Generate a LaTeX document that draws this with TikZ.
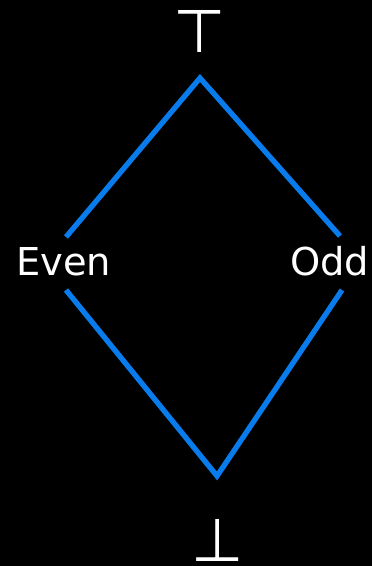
\documentclass[tikz,border=0pt]{standalone}
\usepackage{fontspec}
\setmainfont{DejaVu Sans}
\definecolor{lineblue}{RGB}{8,124,236}
\begin{document}
\begin{tikzpicture}[x=0.75pt,y=-0.75pt,
  lbl/.style={text=white,inner sep=0pt,font=\fontsize{28.8}{30}\selectfont},
  sym/.style={text=white,inner sep=0pt,font=\fontsize{45}{46}\selectfont},
  edge/.style={draw=lineblue,line width=4pt,line cap=butt,line join=miter}]
\fill[black] (0,0) rectangle (372,566);
\useasboundingbox (0,0) rectangle (372,566);
\node[sym] (top) at (200,31) {⊤};
\node[sym] (bot) at (218,540) {⊥};
\node[lbl,anchor=base] (even) at (63.5,275) {Even};
\node[lbl,anchor=base] (odd) at (329.5,275) {Odd};
\coordinate (tapex) at (200,78);
\coordinate (bapex) at (217,476);
\coordinate (eu) at (66,237);
\coordinate (ou) at (340,236);
\coordinate (el) at (66,290);
\coordinate (ol) at (342,290);
\draw[edge] (eu) -- (tapex) -- (ou);
\draw[edge] (el) -- (bapex) -- (ol);
\end{tikzpicture}
\end{document}
